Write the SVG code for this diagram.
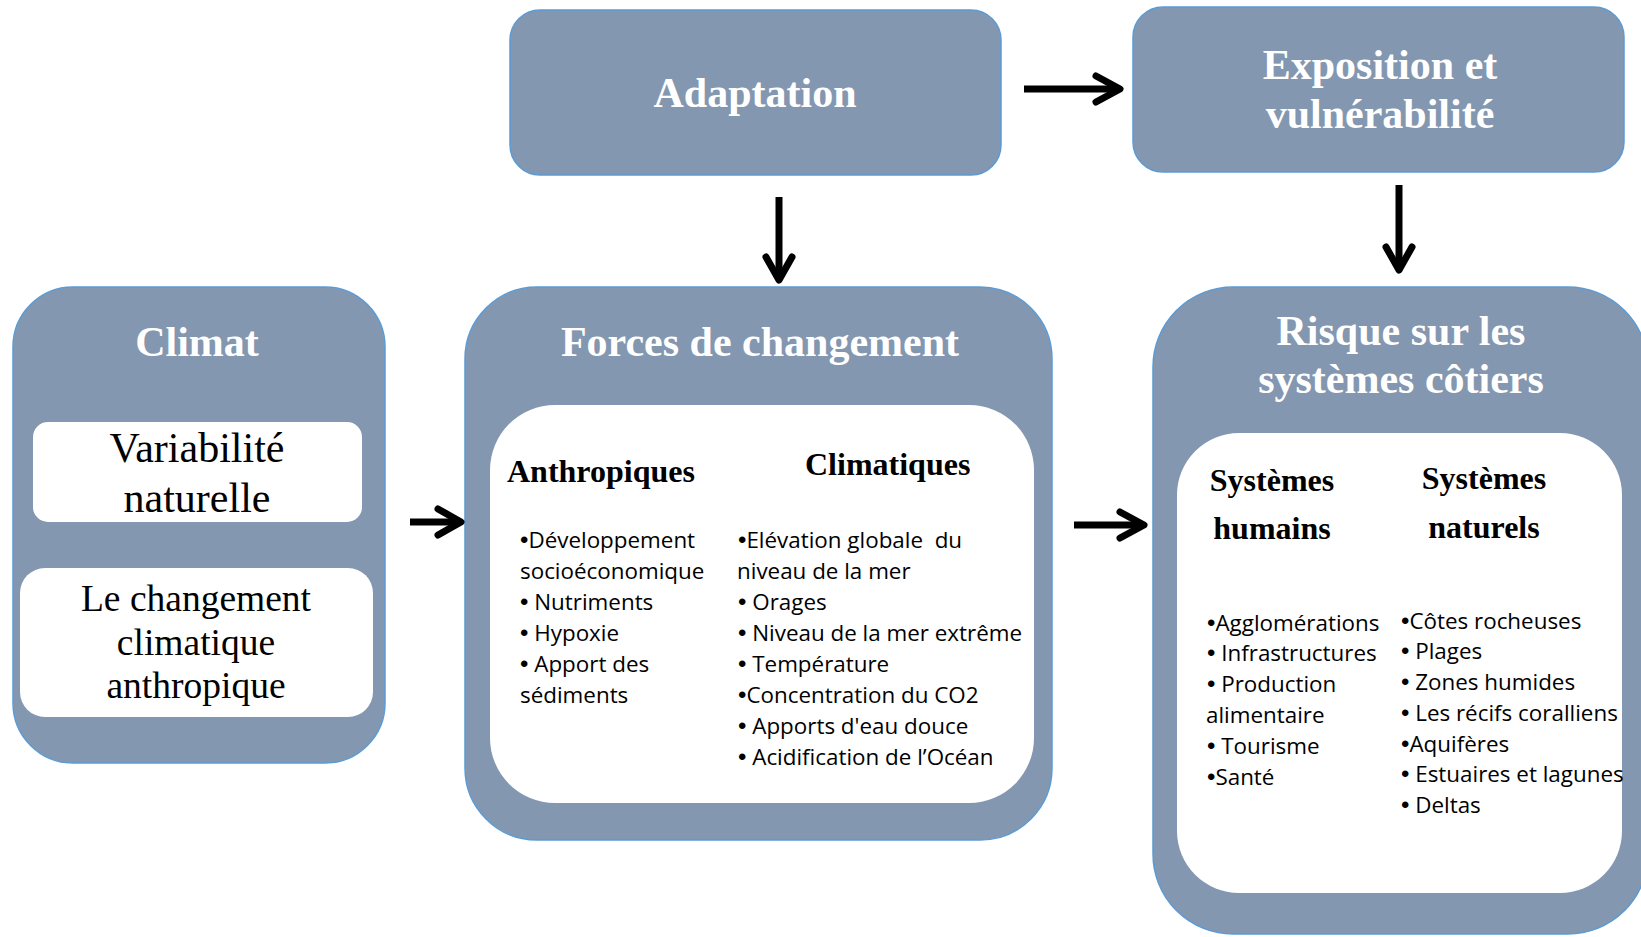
<svg xmlns="http://www.w3.org/2000/svg" width="1641" height="937" viewBox="0 0 1641 937">
<defs>
<style>
.box{fill:#8497B0;stroke:#5B9BD5;stroke-width:1.5}
.inner{fill:#FFFFFF;stroke:none}
.title{font-family:"Liberation Serif","Times New Roman",serif;font-weight:bold;font-size:42px;fill:#FFFFFF;text-anchor:middle}
.sub{font-family:"Liberation Serif","Times New Roman",serif;font-weight:bold;font-size:32px;fill:#000000}
.serif{font-family:"Liberation Serif","Times New Roman",serif;fill:#000000;text-anchor:middle}
.body{font-family:"Open Sans","Noto Sans",sans-serif;font-size:22.4px;fill:#000000}
.b{font-family:"Liberation Sans",Arial,sans-serif;font-size:24px}
.shaft{stroke:#000000;stroke-width:7;fill:none}
.head{stroke:#000000;stroke-width:7;fill:none;stroke-linecap:round;stroke-linejoin:round}
</style>
</defs>
<rect width="1641" height="937" fill="#FFFFFF"/>

<g id="adaptation">
<rect class="box" x="510" y="10" width="491" height="165" rx="30" ry="30"/>
<text class="title" x="755" y="107">Adaptation</text>
</g>

<g id="exposition">
<rect class="box" x="1133" y="7" width="491" height="165" rx="30" ry="30"/>
<text class="title" x="1380" y="79">Exposition et</text>
<text class="title" x="1380" y="128">vulnérabilité</text>
</g>

<g id="climat">
<rect class="box" x="13" y="287" width="372" height="476" rx="60" ry="60"/>
<text class="title" x="197" y="356">Climat</text>
<rect class="inner" x="33" y="422" width="329" height="100" rx="15" ry="15"/>
<text class="serif" x="197" y="462" font-size="42">Variabilité</text>
<text class="serif" x="197" y="512" font-size="42">naturelle</text>
<rect class="inner" x="20" y="568" width="353" height="149" rx="25" ry="25"/>
<text class="serif" x="196" y="611" font-size="37.5">Le changement</text>
<text class="serif" x="196" y="655" font-size="37.5">climatique</text>
<text class="serif" x="196" y="698" font-size="37.5">anthropique</text>
</g>

<g id="forces">
<rect class="box" x="465" y="287" width="587" height="553" rx="72" ry="72"/>
<text class="title" x="760" y="356">Forces de changement</text>
<rect class="inner" x="490" y="405" width="544" height="398" rx="65" ry="65"/>
<text class="sub" x="507" y="482">Anthropiques</text>
<text class="sub" x="805" y="475">Climatiques</text>
<g class="body">
<text x="520" y="548"><tspan class="b">•</tspan>Développement</text>
<text x="520" y="579">socioéconomique</text>
<text x="520" y="610"><tspan class="b">•</tspan> Nutriments</text>
<text x="520" y="641"><tspan class="b">•</tspan> Hypoxie</text>
<text x="520" y="672"><tspan class="b">•</tspan> Apport des</text>
<text x="520" y="703">sédiments</text>
<text x="738" y="548" xml:space="preserve"><tspan class="b">•</tspan>Elévation globale  du</text>
<text x="737" y="579">niveau de la mer</text>
<text x="738" y="610"><tspan class="b">•</tspan> Orages</text>
<text x="738" y="641"><tspan class="b">•</tspan> Niveau de la mer extrême</text>
<text x="738" y="672"><tspan class="b">•</tspan> Température</text>
<text x="738" y="703"><tspan class="b">•</tspan>Concentration du CO2</text>
<text x="738" y="734"><tspan class="b">•</tspan> Apports d'eau douce</text>
<text x="738" y="765"><tspan class="b">•</tspan> Acidification de l’Océan</text>
</g>
</g>

<g id="risque">
<rect class="box" x="1153" y="287" width="495" height="647" rx="80" ry="80"/>
<text class="title" x="1401" y="345">Risque sur les</text>
<text class="title" x="1401" y="393">systèmes côtiers</text>
<rect class="inner" x="1177" y="433" width="445" height="460" rx="62" ry="62"/>
<text class="sub" x="1272" y="491" text-anchor="middle">Systèmes</text>
<text class="sub" x="1272" y="539" text-anchor="middle">humains</text>
<text class="sub" x="1484" y="489" text-anchor="middle">Systèmes</text>
<text class="sub" x="1484" y="538" text-anchor="middle">naturels</text>
<g class="body">
<text x="1207" y="631"><tspan class="b">•</tspan>Agglomérations</text>
<text x="1207" y="661"><tspan class="b">•</tspan> Infrastructures</text>
<text x="1207" y="692"><tspan class="b">•</tspan> Production</text>
<text x="1206" y="723">alimentaire</text>
<text x="1207" y="754"><tspan class="b">•</tspan> Tourisme</text>
<text x="1207" y="785"><tspan class="b">•</tspan>Santé</text>
<text x="1401" y="629"><tspan class="b">•</tspan>Côtes rocheuses</text>
<text x="1401" y="659"><tspan class="b">•</tspan> Plages</text>
<text x="1401" y="690"><tspan class="b">•</tspan> Zones humides</text>
<text x="1401" y="721"><tspan class="b">•</tspan> Les récifs coralliens</text>
<text x="1401" y="752"><tspan class="b">•</tspan>Aquifères</text>
<text x="1401" y="782"><tspan class="b">•</tspan> Estuaires et lagunes</text>
<text x="1401" y="813"><tspan class="b">•</tspan> Deltas</text>
</g>
</g>

<g id="connectors">
<line class="shaft" x1="1024" y1="89" x2="1118" y2="89"/>
<polyline class="head" points="1096,76 1120,89 1096,102"/>
<line class="shaft" x1="779" y1="197" x2="779" y2="278"/>
<polyline class="head" points="766,257 779,280 792,257"/>
<line class="shaft" x1="1399" y1="185" x2="1399" y2="268"/>
<polyline class="head" points="1386,247 1399,270 1412,247"/>
<line class="shaft" x1="410" y1="522" x2="460" y2="522"/>
<polyline class="head" points="438,509 461,522 438,535"/>
<line class="shaft" x1="1074" y1="525" x2="1143" y2="525"/>
<polyline class="head" points="1120,512 1144,525 1120,538"/>
</g>
</svg>
